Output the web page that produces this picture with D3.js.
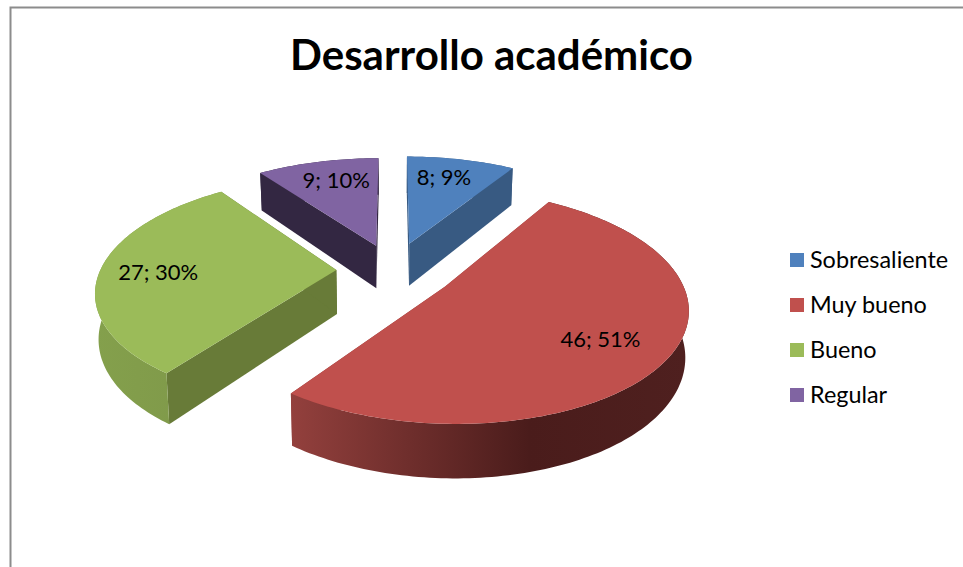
<!DOCTYPE html>
<html>
<head>
<meta charset="utf-8">
<script src="https://cdn.jsdelivr.net/npm/d3@7"></script>
<style>
    html, body { margin: 0; padding: 0; background: #fff; }
    svg { display: block; }
    text { font-family: Lato, "Open Sans", sans-serif; fill: #000; }
</style>
</head>
<body>
<svg id="chart" width="963" height="567"></svg>
<script>
const titleText = "Desarrollo académico";
const categories = ["Sobresaliente", "Muy bueno", "Bueno", "Regular"];
const values = [8, 46, 27, 9];
const percents = [9, 51, 30, 10];
const topColors = ["#4f81bd", "#c0504d", "#9bbb59", "#8064a2"];
const cutColors = ["#385a82", "#8f3f3c", "#687b38", "#332742"];
// outer wall shading, left to right
const wallStops = [
    ["#385a82", "#385a82"],
    ["#93403d", "#4a1c1b", "#4f201f"],
    ["#84a04c", "#7e9749"],
    ["#332742", "#332742"]
];
// how far each slice is pulled out, its size and where its label sits
const explodes = [0.26, 0.26, 0.24, 0.24];
const radii = [1, 0.985, 1, 1];
const labelRadii = [0.72, 0.72, 0.755, 0.76];
const labelNudge = [[-4, -3], [-4, 4], [0, 3], [6, 1]];

const width = 963, height = 567;
const svg = d3.select("#chart");

// 3d look: unit disc seen from above, near side gets bigger
const cx = 393, cy = 270, Rx = 236, Ry = 110;
const persp = 0.17, depth = 44, shrink = 0.012;

function project(X, Y, z) {
    const w = 1 / (1 - persp * Y);
    return [cx + Rx * X * w * (1 - shrink * z), cy + Ry * Y * w + depth * w * z];
}

const slices = d3.pie().sort(null).value(d => d)(values).map((d, i) => {
    const mid = (d.startAngle + d.endAngle) / 2;
    return {
        i: i,
        a0: d.startAngle,
        a1: d.endAngle,
        mid: mid,
        ox: explodes[i] * Math.sin(mid),
        oy: -explodes[i] * Math.cos(mid)
    };
});

function rimPoint(s, a, r, z) {
    return project(s.ox + r * Math.sin(a), s.oy - r * Math.cos(a), z);
}

function rimAngles(s) {
    const n = Math.ceil((s.a1 - s.a0) / 0.02);
    return d3.range(n + 1).map(k => s.a0 + (s.a1 - s.a0) * k / n);
}

const line = d3.line();

const defs = svg.append("defs");
slices.forEach(s => {
    const xs = rimAngles(s).map(a => rimPoint(s, a, radii[s.i], 0)[0]);
    const grad = defs.append("linearGradient")
        .attr("id", "wall-" + s.i)
        .attr("gradientUnits", "userSpaceOnUse")
        .attr("x1", d3.min(xs))
        .attr("x2", d3.max(xs));
    wallStops[s.i].forEach((c, k, all) => {
        let off = k / (all.length - 1);
        if (s.i === 1 && k === 1) off = 0.6;
        grad.append("stop").attr("offset", off).attr("stop-color", c);
    });
});

// back to front
const order = [3, 0, 2, 1];
const pie = svg.append("g");
order.forEach(i => {
    const s = slices[i];
    const r = radii[i];
    const g = pie.append("g");
    const apex0 = project(s.ox, s.oy, 0), apex1 = project(s.ox, s.oy, 1);

    [s.a0, s.a1].forEach(a => {
        g.append("path")
            .attr("d", line([apex0, rimPoint(s, a, r, 0), rimPoint(s, a, r, 1), apex1]) + "Z")
            .attr("fill", cutColors[i]);
    });

    const angles = rimAngles(s);
    const wall = angles.map(a => rimPoint(s, a, r, 0))
        .concat(angles.slice().reverse().map(a => rimPoint(s, a, r, 1)));
    g.append("path")
        .attr("d", line(wall) + "Z")
        .attr("fill", "url(#wall-" + i + ")");

    const top = [apex0].concat(angles.map(a => rimPoint(s, a, r, 0)));
    g.append("path")
        .attr("d", line(top) + "Z")
        .attr("fill", topColors[i]);
});

// data labels
svg.append("g").selectAll("text")
    .data(slices)
    .join("text")
    .attr("x", s => rimPoint(s, s.mid, labelRadii[s.i], 0)[0] + labelNudge[s.i][0])
    .attr("y", s => rimPoint(s, s.mid, labelRadii[s.i], 0)[1] + 7 + labelNudge[s.i][1])
    .attr("text-anchor", "middle")
    .attr("font-size", 22)
    .text(s => values[s.i] + "; " + percents[s.i] + "%");

// chart frame, only top and left show in the crop
svg.append("path")
    .attr("d", line([[10.5, height], [10.5, 7.5], [width, 7.5]]))
    .attr("fill", "none")
    .attr("stroke", "#8c8c8c")
    .attr("stroke-width", 2);

svg.append("text")
    .attr("x", 491.5)
    .attr("y", 70)
    .attr("text-anchor", "middle")
    .attr("font-size", 42)
    .attr("font-weight", 700)
    .text(titleText);

// legend
const legendY = d3.scalePoint().domain(categories).range([260, 395]);
const legend = svg.append("g").selectAll("g")
    .data(categories)
    .join("g")
    .attr("transform", d => `translate(790,${legendY(d)})`);
legend.append("rect")
    .attr("y", -7)
    .attr("width", 14)
    .attr("height", 14)
    .attr("fill", (d, i) => topColors[i]);
legend.append("text")
    .attr("x", 20)
    .attr("y", 7.5)
    .attr("font-size", 23.4)
    .text(d => d);
</script>
</body>
</html>
